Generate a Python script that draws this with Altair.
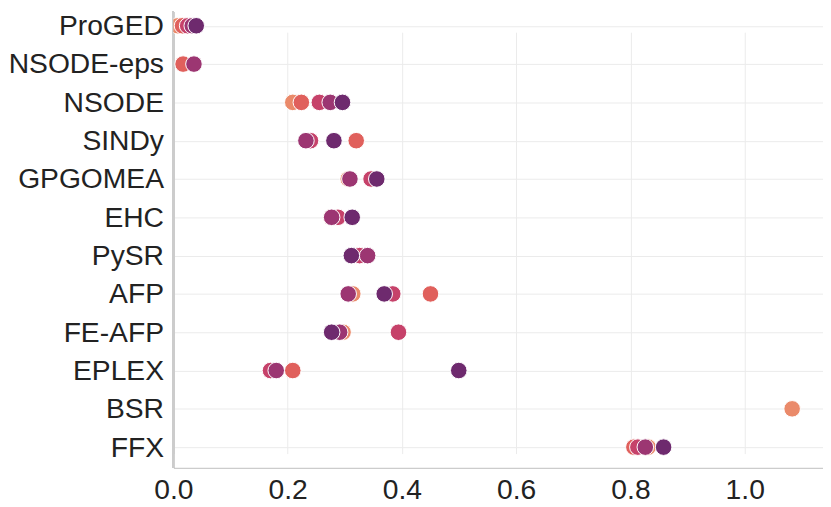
import altair as alt
import pandas as pd

methods = ["ProGED", "NSODE-eps", "NSODE", "SINDy", "GPGOMEA", "EHC",
           "PySR", "AFP", "FE-AFP", "EPLEX", "BSR", "FFX"]

series = ["s1", "s2", "s3", "s4", "s5"]
colors = ["#ea8a6a", "#e0605c", "#c6426a", "#9c3672", "#6e2a6e"]

s1 = [0.008, None, 0.209, None, 0.306, 0.276, None, 0.314, 0.297, None, 1.083, 0.831]
s2 = [0.016, 0.017, 0.224, 0.320, None, None, None, 0.450, None, 0.209, None, 0.806]
s3 = [0.025, None, 0.2555, 0.240, 0.346, 0.288, 0.326, 0.384, 0.394, 0.170, None, 0.813]
s4 = [0.033, 0.036, 0.2745, 0.232, 0.309, 0.277, 0.340, 0.306, 0.291, 0.180, None, 0.826]
s5 = [0.040, None, 0.296, 0.281, 0.356, 0.313, 0.3115, 0.369, 0.277, 0.4995, None, 0.858]

x_ticks = [0.0, 0.2, 0.4, 0.6, 0.8, 1.0]

rows = []
for k, (name, vals) in enumerate(zip(series, [s1, s2, s3, s4, s5])):
    for m, v in zip(methods, vals):
        if v is not None:
            rows.append({"method": m, "value": v, "series": name, "k": k})
df = pd.DataFrame(rows)

FONT = "Liberation Sans"
FS = 28.5
TXT = "#222222"

xscale = alt.Scale(domain=[0, 1.137], nice=False, zero=False)

points = alt.Chart(df).mark_point(
    filled=True, shape="circle", size=280, opacity=1,
    stroke="white", strokeWidth=1, clip=True
).encode(
    x=alt.X("value:Q", scale=xscale,
            axis=alt.Axis(values=x_ticks, format=".1f", title=None,
                          labelFontSize=FS, labelFont=FONT, labelColor=TXT,
                          labelPadding=8, labelFlush=False, ticks=False, grid=True,
                          gridColor="#ebebeb", gridWidth=1,
                          domainColor="#cccccc", domainWidth=1.3)),
    y=alt.Y("method:N", sort=methods,
            scale=alt.Scale(range=[14.5, 440], padding=0),
            axis=alt.Axis(title=None, labelFontSize=FS, labelFont=FONT,
                          labelColor=TXT, labelPadding=10, ticks=False,
                          grid=True, gridColor="#ebebeb", gridWidth=1,
                          domain=False)),
    color=alt.Color("series:N", scale=alt.Scale(domain=series, range=colors),
                    legend=None),
    order=alt.Order("k:Q"),
)

left_line = alt.Chart(df).mark_rule(color="#cccccc", strokeWidth=1.3).encode(
    x=alt.datum(0, scale=xscale)
)

chart = alt.layer(left_line, points).properties(
    width=656, height=461, padding=0, background="white"
).configure_view(
    stroke=None
)

chart.save("out.html", embed_options={"renderer": "svg", "actions": False})
